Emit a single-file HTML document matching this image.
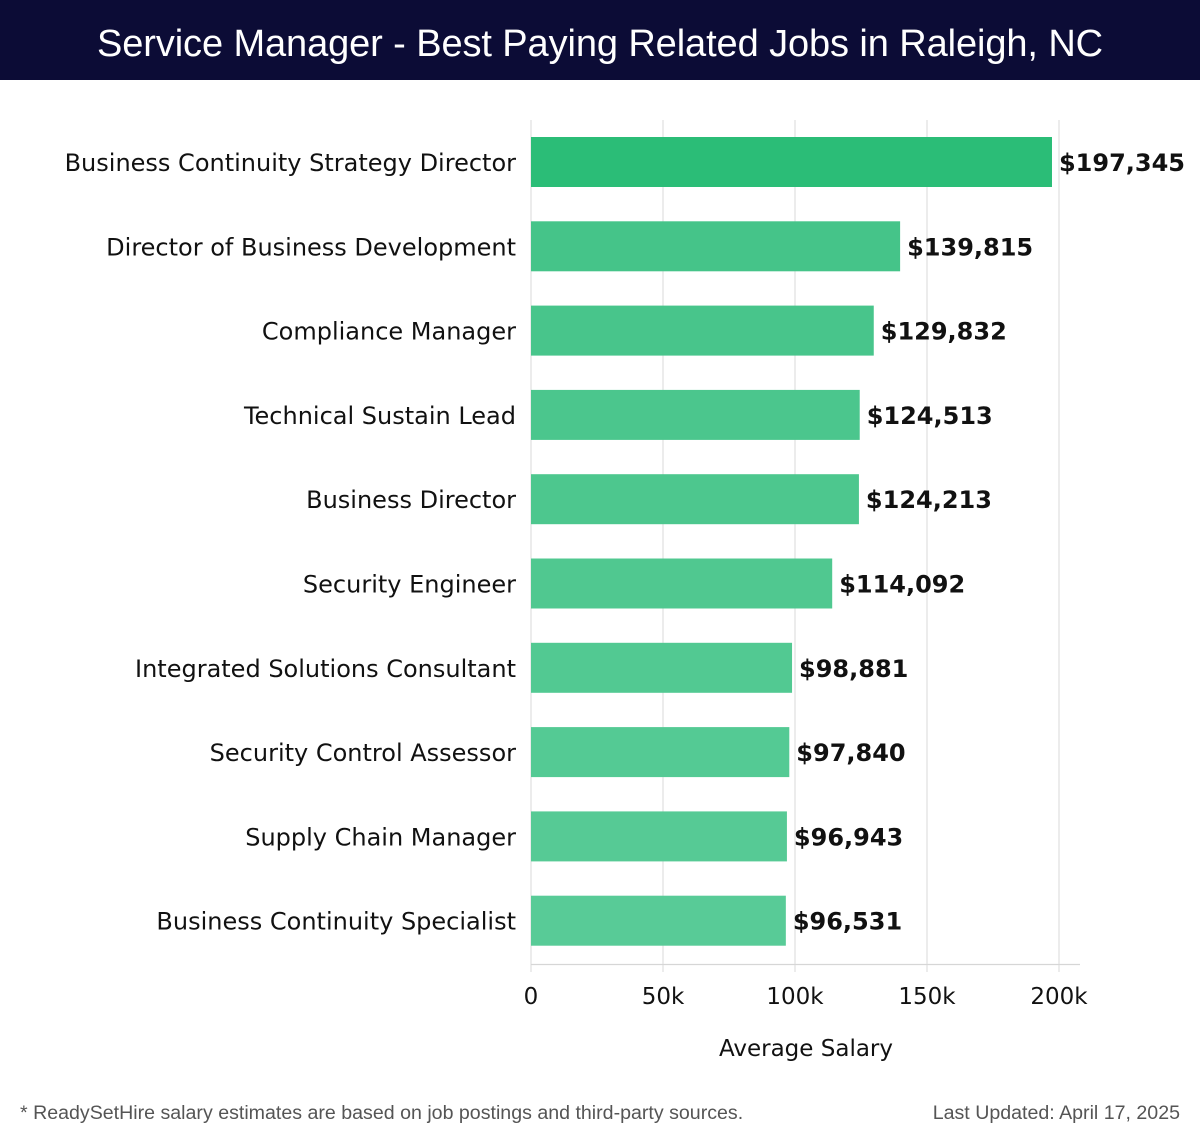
<!DOCTYPE html>
<html><head><meta charset="utf-8"><style>
body{margin:0;width:1200px;height:1140px;background:#fff;font-family:"DejaVu Sans","Liberation Sans",sans-serif;overflow:hidden}
#hdr{position:absolute;left:0;top:0;width:1200px;height:80px;background:#0c0c36;color:#fff;font-size:38px;text-align:center;line-height:88px;font-family:"Liberation Sans",sans-serif;letter-spacing:-0.1px}
</style></head><body>
<div id="hdr">Service Manager - Best Paying Related Jobs in Raleigh, NC</div>
<svg id="chart" width="1200" height="1140" style="position:absolute;left:0;top:0"></svg>
<script>
const categories=["Business Continuity Strategy Director","Director of Business Development","Compliance Manager","Technical Sustain Lead","Business Director","Security Engineer","Integrated Solutions Consultant","Security Control Assessor","Supply Chain Manager","Business Continuity Specialist"];
const salaries=[197345,139815,129832,124513,124213,114092,98881,97840,96943,96531];
const tickValues=[0,50000,100000,150000,200000];
const tickLabels=["0","50k","100k","150k","200k"];
const svg=document.getElementById('chart');const NS="http://www.w3.org/2000/svg";
const x=v=>531+v*(1059-531)/200000;
const yc=i=>162+i*84.3;
function mk(t,a,txt){const e=document.createElementNS(NS,t);for(const k in a)e.setAttribute(k,a[k]);if(txt!==undefined)e.textContent=txt;svg.appendChild(e);return e;}
tickValues.forEach((v,i)=>{
 const g=mk('line',{x1:x(v),x2:x(v),y1:120,y2:972,stroke:'#e0e0e0','stroke-width':1.2});
 
 
 const t=mk('text',{x:x(v),y:1004,'text-anchor':'middle','font-size':23,fill:'#111'},tickLabels[i]);
 
 
});
const ax=mk('line',{x1:531,x2:1080,y1:964.5,y2:964.5,stroke:'#d6d6d6','stroke-width':1.2});


const cols=["#2bbd77","#45c489","#48c58b","#4bc68d","#4dc78e","#50c890","#52c992","#54ca94","#56ca95","#58cb97"];
salaries.forEach((s,i)=>{
 const r=mk('rect',{x:531,y:yc(i)-25,width:x(s)-531,height:50,fill:cols[i]});
 
 
 const l=mk('text',{x:516,y:yc(i)+9,'text-anchor':'end','font-size':24,fill:'#111'},categories[i]);
 
 
 const v=mk('text',{x:x(s)+7,y:yc(i)+9,'font-size':24,'font-weight':'bold',fill:'#111'},'$'+s.toLocaleString('en-US'));
 
 
});
const at=mk('text',{x:806,y:1056,'text-anchor':'middle','font-size':23,fill:'#111'},'Average Salary');


const f1=mk('text',{x:20,y:1119,'font-size':19.6,fill:'#555','font-family':'Liberation Sans, sans-serif'},'* ReadySetHire salary estimates are based on job postings and third-party sources.');


const f2=mk('text',{x:1180,y:1119,'text-anchor':'end','font-size':19.6,fill:'#555','font-family':'Liberation Sans, sans-serif'},'Last Updated: April 17, 2025');


</script>
</body></html>
